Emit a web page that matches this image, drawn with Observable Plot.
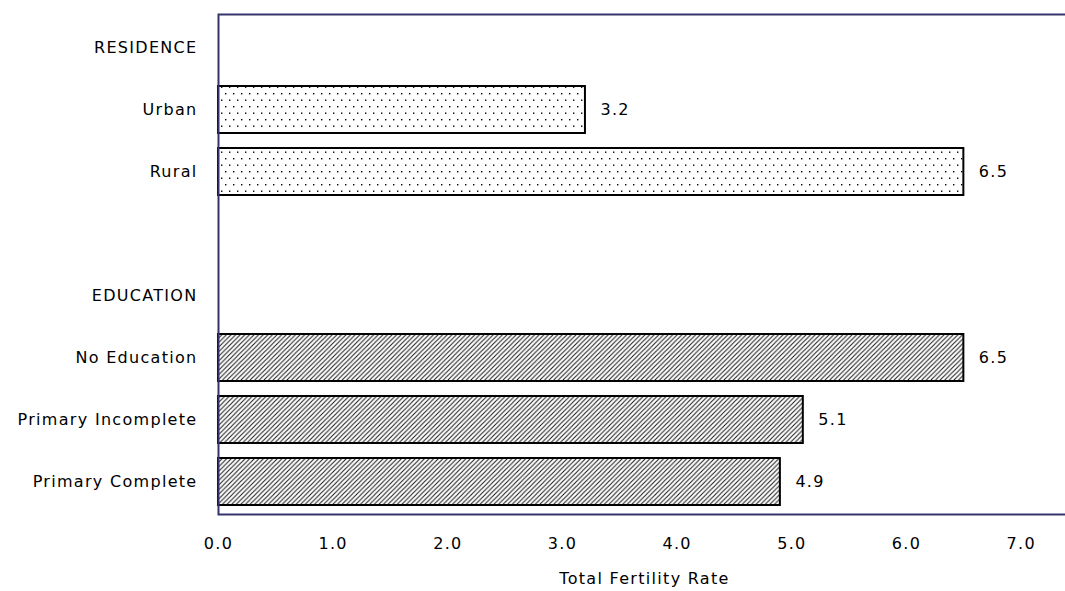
<!DOCTYPE html>
<html>
<head>
<meta charset="utf-8">
<script src="https://cdn.jsdelivr.net/npm/d3@7"></script>
<script src="https://cdn.jsdelivr.net/npm/@observablehq/plot@0.6"></script>
<style>
  html, body { margin: 0; padding: 0; background: #fff; overflow: hidden; }
</style>
</head>
<body>
<div id="chart"></div>
<script>
// ---- data ----
const rowOrder = ["RESIDENCE", "Urban", "Rural", " ", "EDUCATION", "No Education", "Primary Incomplete", "Primary Complete"];
const residenceCategories = ["Urban", "Rural"];
const residenceValues = [3.2, 6.5];
const educationCategories = ["No Education", "Primary Incomplete", "Primary Complete"];
const educationValues = [6.5, 5.1, 4.9];
const xTicks = [0, 1, 2, 3, 4, 5, 6, 7];
const xTitle = "Total Fertility Rate";

const residence = residenceCategories.map((c, i) => ({category: c, value: residenceValues[i]}));
const education = educationCategories.map((c, i) => ({category: c, value: educationValues[i]}));
const all = residence.concat(education);

const fmt = d3.format(".1f");

const chart = Plot.plot({
  width: 1070,
  height: 591,
  marginLeft: 218,
  marginRight: 0,
  marginTop: 14,
  marginBottom: 77,
  style: {
    fontFamily: "DejaVu Sans",
    fontSize: "16px",
    letterSpacing: "1.3px",
    color: "#000",
    background: "#fff",
    overflow: "visible",
    maxWidth: "none"
  },
  x: {domain: [0, 7.43]},
  y: {domain: rowOrder, paddingInner: 0.25, paddingOuter: 0.125},
  marks: [
    Plot.barX(residence, {x: "value", y: "category", fill: "url(#dots)", stroke: "#000", strokeWidth: 2}),
    Plot.barX(education, {x: "value", y: "category", fill: "url(#hatch)", stroke: "#000", strokeWidth: 2}),
    Plot.text(all, {x: "value", y: "category", text: d => fmt(d.value), dx: 15, textAnchor: "start", fill: "#000"}),
    Plot.frame({stroke: "#34346a", strokeWidth: 2}),
    Plot.axisY({tickSize: 0, tickPadding: 21, label: null}),
    Plot.axisX({ticks: xTicks, tickSize: 0, tickPadding: 23, tickFormat: fmt, label: null}),
    Plot.text([xTitle], {frameAnchor: "bottom", dy: 69, fill: "#000"})
  ]
});

// patterns
const svg = d3.select(chart.tagName.toLowerCase() === "svg" ? chart : chart.querySelector("svg"));
const defs = svg.insert("defs", ":first-child");
const dots = defs.append("pattern").attr("id", "dots").attr("patternUnits", "userSpaceOnUse")
  .attr("width", 8).attr("height", 13);
dots.append("rect").attr("width", 8).attr("height", 13).attr("fill", "#fff");
dots.append("rect").attr("x", 1).attr("y", 2).attr("width", 1.4).attr("height", 1.4).attr("fill", "#000");
dots.append("rect").attr("x", 5).attr("y", 8.5).attr("width", 1.4).attr("height", 1.4).attr("fill", "#000");

const hatch = defs.append("pattern").attr("id", "hatch").attr("patternUnits", "userSpaceOnUse")
  .attr("width", 4.6).attr("height", 4.6);
hatch.append("rect").attr("width", 4.6).attr("height", 4.6).attr("fill", "#fff");
hatch.append("path").attr("d", "M-1.15,1.15 L1.15,-1.15 M0,4.6 L4.6,0 M3.45,5.75 L5.75,3.45")
  .attr("stroke", "#1a1a1a").attr("stroke-width", 1.05).attr("fill", "none");

document.getElementById("chart").appendChild(chart);
</script>
</body>
</html>
